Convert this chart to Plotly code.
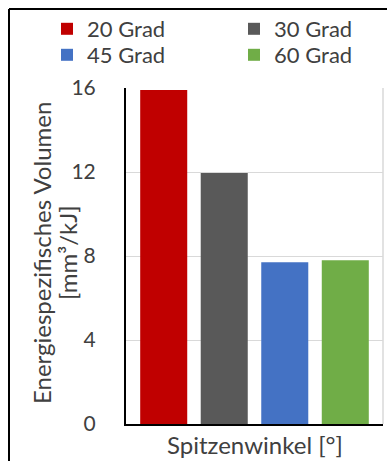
import plotly.graph_objects as go

# Data
series = ["20 Grad", "30 Grad", "45 Grad", "60 Grad"]
values = [15.9, 11.95, 7.7, 7.8]
colors = ["#C00000", "#595959", "#4472C4", "#70AD47"]
category = ["Spitzenwinkel"]
y_ticks = [0, 4, 8, 12, 16]

W, H = 387, 461
L, R, T, B = 126, 4, 88, 37
pw, ph = W - L - R, H - T - B


def px_x(p):
    return (p - L) / pw


def px_y(p):
    return (H - B - p) / ph


text_color = "#404040"

# Legend entries laid out in a 2x2 grid: (left px, centre y px)
legend_slots = [(47, 29), (234, 29), (47, 55), (234, 55)]
legend_names = ["legend", "legend2", "legend3", "legend4"]

fig = go.Figure()
for name, v, c, lg in zip(series, values, colors, legend_names):
    fig.add_trace(go.Bar(x=category, y=[v], name=name, legend=lg,
                         marker=dict(color=c, line=dict(width=0))))

legend_layout = {}
for lg, (lx, ly) in zip(legend_names, legend_slots):
    legend_layout[lg] = dict(orientation="v", x=px_x(lx), y=px_y(ly),
                             xanchor="left", yanchor="middle",
                             itemwidth=30, font=dict(size=22, color=text_color),
                             bgcolor="rgba(0,0,0,0)", borderwidth=0)

fig.update_layout(
    width=W, height=H,
    margin=dict(l=L, r=R, t=T, b=B),
    barmode="group", bargap=0.058, bargroupgap=0.223,
    plot_bgcolor="white", paper_bgcolor="white",
    font=dict(family="Lato", color=text_color),
    showlegend=True,
    xaxis=dict(showticklabels=False, showline=True, linecolor="black",
               linewidth=2, showgrid=False, ticks=""),
    yaxis=dict(range=[0, 16], tickvals=y_ticks, showgrid=True,
               gridcolor="#d9d9d9", gridwidth=1, zeroline=False,
               showline=True, linecolor="black", linewidth=2,
               ticks="", ticklabelstandoff=24,
               tickfont=dict(size=21, color=text_color)),
    **legend_layout,
)

# Axis titles
fig.add_annotation(text="Energiespezifisches Volumen", xref="paper", yref="paper",
                   x=px_x(41), y=px_y(253), textangle=-90, showarrow=False,
                   xanchor="center", yanchor="middle",
                   font=dict(size=24, color=text_color))
fig.add_annotation(text="[mm³/kJ]", xref="paper", yref="paper",
                   x=px_x(67), y=px_y(253), textangle=-90, showarrow=False,
                   xanchor="center", yanchor="middle",
                   font=dict(size=24, color=text_color))
fig.add_annotation(text="Spitzenwinkel [°]", xref="paper", yref="paper",
                   x=px_x(255), y=px_y(444), showarrow=False,
                   xanchor="center", yanchor="middle",
                   font=dict(size=24, color=text_color))

# Right border of the plot area and outer frame
fig.add_shape(type="line", xref="paper", yref="paper", x0=1, x1=1, y0=0, y1=1,
              line=dict(color="#d9d9d9", width=1.5))
fig.add_shape(type="line", xref="paper", yref="paper",
              x0=px_x(9), x1=px_x(400), y0=px_y(9), y1=px_y(9),
              line=dict(color="black", width=2))
fig.add_shape(type="line", xref="paper", yref="paper",
              x0=px_x(9), x1=px_x(9), y0=px_y(9), y1=px_y(470),
              line=dict(color="black", width=2))

fig.write_html("out.html")
